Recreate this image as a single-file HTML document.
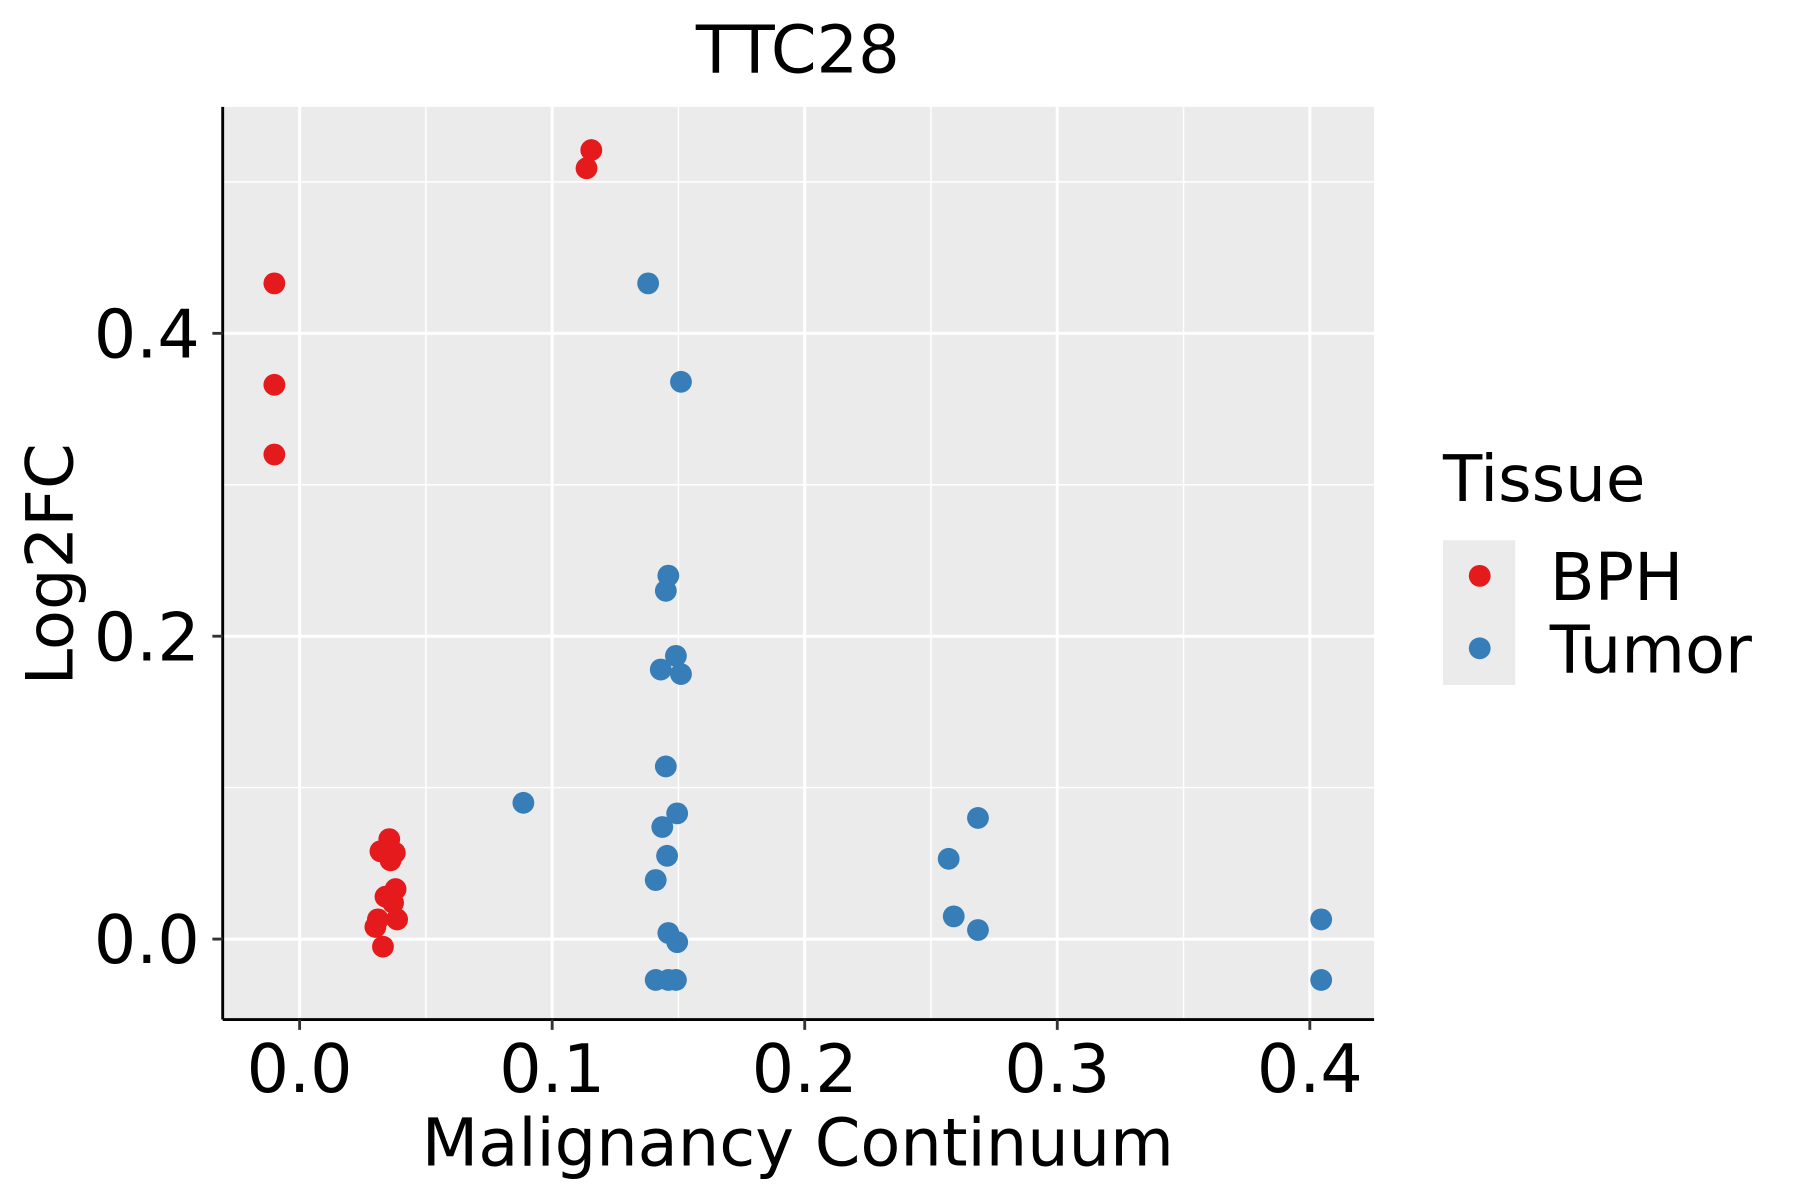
<!DOCTYPE html>
<html><head><meta charset="utf-8"><style>html,body{margin:0;padding:0;background:#fff}svg{display:block}text{font-family:"DejaVu Sans","Liberation Sans",sans-serif;fill:#000}</style></head>
<body>
<svg id="chart" width="1800" height="1200" viewBox="0 0 1568 1044" preserveAspectRatio="none" xmlns="http://www.w3.org/2000/svg">
<rect x="194" y="93" width="1003" height="794" fill="#ebebeb"/>
<g id="grid"></g>
<g id="points"></g>
<line x1="194" y1="887" x2="1197" y2="887" stroke="#000" stroke-width="2.5"/>
<line x1="194" y1="93" x2="194" y2="887" stroke="#000" stroke-width="2.5"/>
<g id="ticks"></g>
<text x="695" y="63" font-size="57" text-anchor="middle">TTC28</text>
<text x="695" y="1014" font-size="57" text-anchor="middle">Malignancy Continuum</text>
<text transform="translate(63,491) rotate(-90)" font-size="57" text-anchor="middle">Log2FC</text>
<g>
<text x="1257" y="436" font-size="56">Tissue</text>
<rect x="1257" y="470" width="63" height="126" fill="#ebebeb"/>
<circle cx="1289" cy="501" r="9.5" fill="#e41a1c"/>
<text x="1350" y="522" font-size="57">BPH</text>
<circle cx="1289" cy="564" r="9.5" fill="#377eb8"/>
<text x="1350" y="585" font-size="57">Tumor</text>
</g>
</svg>
<script>
const xTicks=[0,0.1,0.2,0.3,0.4];
const yTicks=[0,0.2,0.4];
const xMinor=[0.05,0.15,0.25,0.35];
const yMinor=[0.1,0.3,0.5];
const bphX=[-0.010,-0.010,-0.010,0.1155,0.1136,0.0355,0.032,0.0377,0.036,0.038,0.034,0.037,0.031,0.0386,0.030,0.033];
const bphY=[0.433,0.366,0.320,0.521,0.509,0.066,0.058,0.057,0.052,0.033,0.028,0.024,0.013,0.013,0.008,-0.005];
const tumorX=[0.138,0.151,0.146,0.145,0.149,0.143,0.151,0.145,0.0886,0.1495,0.1436,0.1455,0.141,0.146,0.1495,0.141,0.146,0.149,0.2686,0.257,0.259,0.2686,0.4045,0.4045];
const tumorY=[0.433,0.368,0.240,0.230,0.187,0.178,0.175,0.114,0.090,0.083,0.074,0.055,0.039,0.004,-0.002,-0.027,-0.027,-0.027,0.080,0.053,0.015,0.006,0.013,-0.027];
const NS="http://www.w3.org/2000/svg";
function sx(v){return 261+v*2200;}
function sy(v){return 817-v*1317.5;}
const grid=document.getElementById('grid'),pts=document.getElementById('points'),tk=document.getElementById('ticks');
function mk(tag,attrs,parent){const e=document.createElementNS(NS,tag);for(const k in attrs)e.setAttribute(k,attrs[k]);parent.appendChild(e);return e;}
xMinor.forEach(v=>{const l=mk('line',{x1:sx(v),x2:sx(v),y1:93,y2:887,stroke:'#fff','stroke-width':1.3},grid);

});
yMinor.forEach(v=>{const l=mk('line',{x1:194,x2:1197,y1:sy(v),y2:sy(v),stroke:'#fff','stroke-width':1.3},grid);

});
xTicks.forEach(v=>{const l=mk('line',{x1:sx(v),x2:sx(v),y1:93,y2:887,stroke:'#fff','stroke-width':2.6},grid);


const t=mk('line',{x1:sx(v),x2:sx(v),y1:887,y2:896,stroke:'#333','stroke-width':2.5},tk);


const s=mk('text',{x:sx(v),y:950,'font-size':58,'text-anchor':'middle'},tk);s.textContent=v.toFixed(1);

});
yTicks.forEach(v=>{const l=mk('line',{x1:194,x2:1197,y1:sy(v),y2:sy(v),stroke:'#fff','stroke-width':2.6},grid);


const t=mk('line',{x1:185,x2:194,y1:sy(v),y2:sy(v),stroke:'#333','stroke-width':2.5},tk);


const s=mk('text',{x:174,y:sy(v)+21,'font-size':58,'text-anchor':'end'},tk);s.textContent=v.toFixed(1);

});
bphX.forEach((v,i)=>{const c=mk('circle',{cx:sx(v),cy:sy(bphY[i]),r:9.5,fill:'#e41a1c'},pts);

});
tumorX.forEach((v,i)=>{const c=mk('circle',{cx:sx(v),cy:sy(tumorY[i]),r:9.5,fill:'#377eb8'},pts);

});
</script>
</body></html>
